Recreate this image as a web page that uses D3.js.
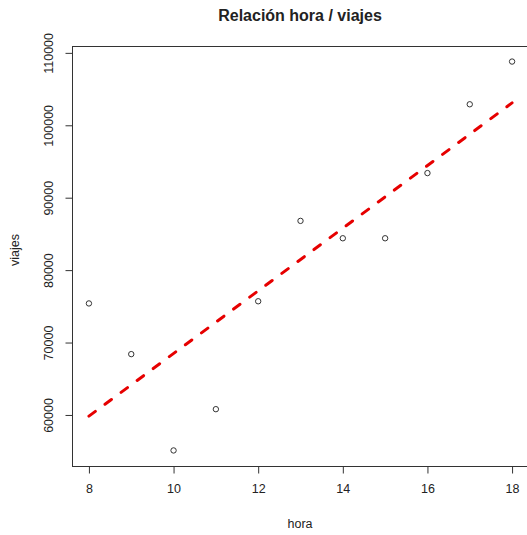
<!DOCTYPE html>
<html>
<head>
<meta charset="utf-8">
<script src="https://cdn.jsdelivr.net/npm/d3@7"></script>
<style>
  body { margin: 0; background: #fff; }
  text { font-family: "Liberation Sans", Arial, sans-serif; fill: #222; }
</style>
</head>
<body>
<div id="chart"></div>
<script>
// datos: hora del dia y numero de viajes
var horas = [8, 9, 10, 11, 12, 13, 14, 15, 16, 17, 18];
var viajes = [75400, 68400, 55100, 60800, 75700, 86800, 84400, 84400, 93400, 102900, 108800];
var xTicks = [8, 10, 12, 14, 16, 18];
var yTicks = [60000, 70000, 80000, 90000, 100000, 110000];

var width = 527, height = 535;
var margin = {left: 72, top: 46, right: -2, bottom: 69};

var svg = d3.select("#chart").append("svg")
    .attr("width", width)
    .attr("height", height);

// rango con 4% extra como en R
function extend(ext) {
  var d = (ext[1] - ext[0]) * 0.04;
  return [ext[0] - d, ext[1] + d];
}

var x = d3.scaleLinear()
    .domain(extend(d3.extent(horas)))
    .range([margin.left, width - margin.right]);

var y = d3.scaleLinear()
    .domain(extend(d3.extent(viajes)))
    .range([height - margin.bottom, margin.top]);

// recta de regresion (lm)
var mx = d3.mean(horas), my = d3.mean(viajes);
var sxy = d3.sum(horas, function(h, i) { return (h - mx) * (viajes[i] - my); });
var sxx = d3.sum(horas, function(h) { return (h - mx) * (h - mx); });
var pend = sxy / sxx, inter = my - pend * mx;

// caja
svg.append("rect")
    .attr("x", margin.left + 0.5)
    .attr("y", margin.top + 0.5)
    .attr("width", width - margin.right - margin.left)
    .attr("height", height - margin.bottom - margin.top)
    .attr("fill", "none")
    .attr("stroke", "#333")
    .attr("stroke-width", 1);

// eje x
var gx = svg.append("g")
    .attr("transform", "translate(0," + (height - margin.bottom + 0.5) + ")")
    .call(d3.axisBottom(x).tickValues(xTicks).tickSize(7).tickPadding(11).tickFormat(d3.format("d")));
gx.select(".domain").remove();

// eje y
var gy = svg.append("g")
    .attr("transform", "translate(" + (margin.left + 0.5) + ",0)")
    .call(d3.axisLeft(y).tickValues(yTicks).tickSize(7).tickFormat(d3.format("d")));
gy.select(".domain").remove();
gy.selectAll(".tick text")
    .attr("x", 0).attr("dy", 0)
    .attr("transform", "translate(-20,0) rotate(-90)")
    .attr("text-anchor", "middle");

svg.selectAll(".tick line").attr("stroke", "#333");
svg.selectAll(".tick text")
    .style("font-family", "'Liberation Sans', Arial, sans-serif")
    .style("font-size", "12.5px")
    .attr("fill", "#222");

// linea
svg.append("line")
    .attr("x1", x(8)).attr("y1", y(inter + pend * 8))
    .attr("x2", x(18)).attr("y2", y(inter + pend * 18))
    .attr("stroke", "#e60000")
    .attr("stroke-width", 3)
    .attr("stroke-dasharray", "8,12")
    .attr("stroke-linecap", "round");

// puntos
svg.selectAll(".pt")
    .data(horas)
  .enter().append("circle")
    .attr("class", "pt")
    .attr("cx", function(d) { return x(d); })
    .attr("cy", function(d, i) { return y(viajes[i]); })
    .attr("r", 2.7)
    .attr("fill", "none")
    .attr("stroke", "#333")
    .attr("stroke-width", 1);

// titulos
svg.append("text")
    .attr("x", 300).attr("y", 20.5)
    .attr("text-anchor", "middle")
    .style("font-size", "16px")
    .style("font-weight", "bold")
    .attr("fill", "#000")
    .text("Relación hora / viajes");

svg.append("text")
    .attr("x", 300).attr("y", 528)
    .attr("text-anchor", "middle")
    .style("font-size", "12.5px")
    .text("hora");

svg.append("text")
    .attr("transform", "translate(19,250) rotate(-90)")
    .attr("text-anchor", "middle")
    .style("font-size", "12.5px")
    .text("viajes");
</script>
</body>
</html>
